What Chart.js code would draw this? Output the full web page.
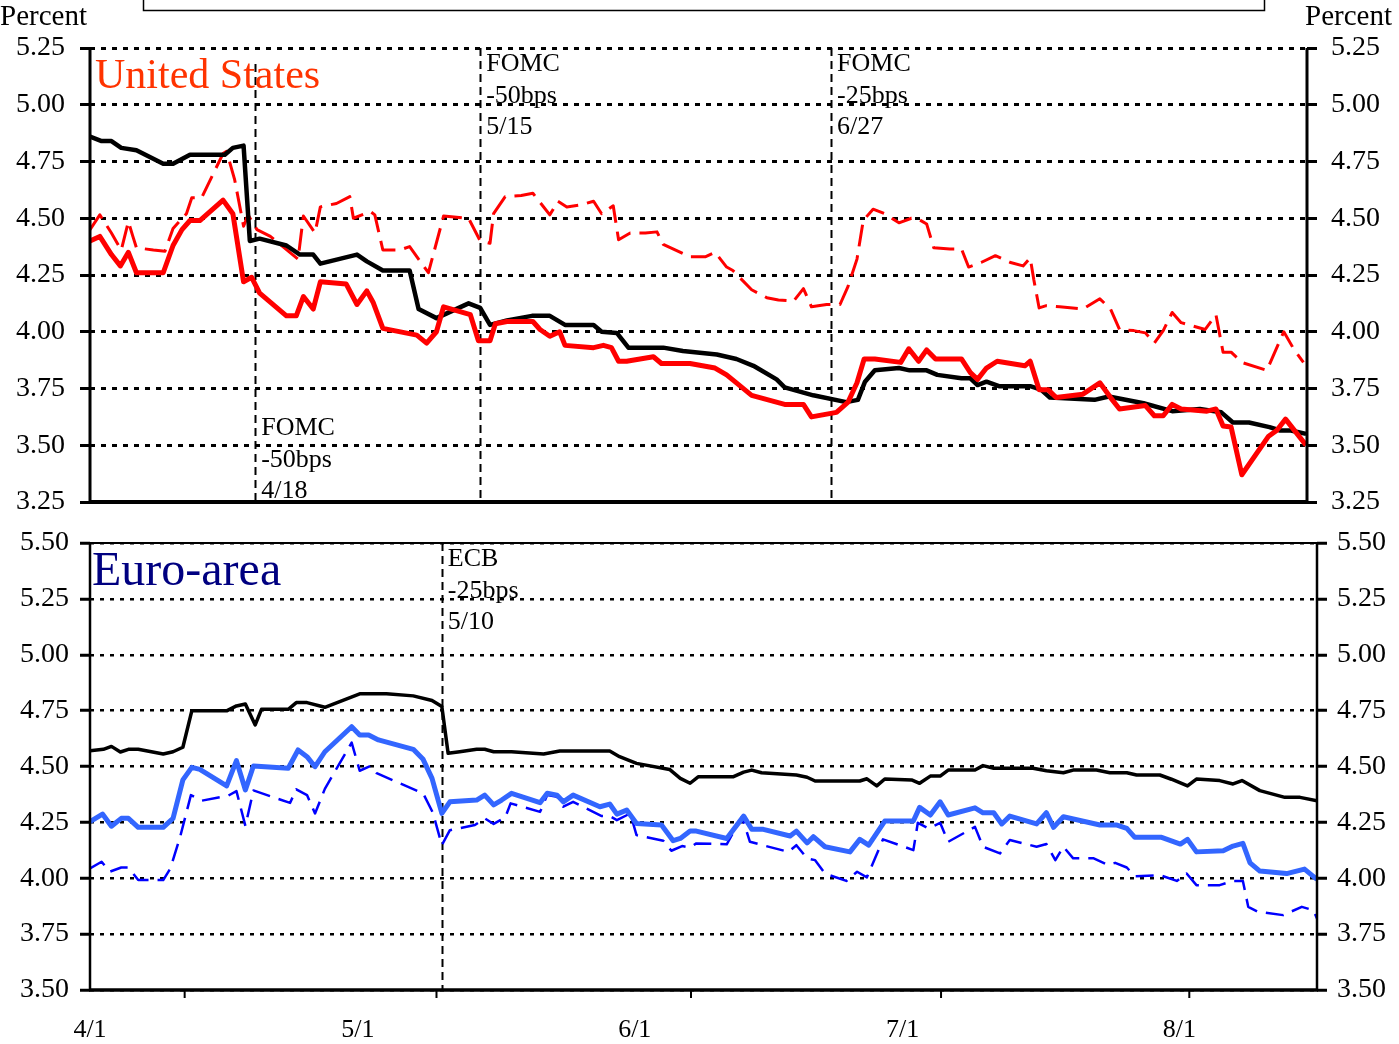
<!DOCTYPE html>
<html>
<head>
<meta charset="utf-8">
<title>US and Euro-area rates</title>
<script src="https://cdn.jsdelivr.net/npm/chart.js@4.4.1/dist/chart.umd.min.js"></script>
<style>
  body { margin: 0; background: #fff; }
  #wrap { position: relative; width: 1399px; height: 1044px; }
  canvas { position: absolute; left: 0; }
  #usChart { top: 0; z-index: 2; }
  #euChart { top: 512px; z-index: 1; }
</style>
</head>
<body>
<div id="wrap">
  <canvas id="usChart" width="1399" height="534" style="width:1399px;height:534px"></canvas>
  <canvas id="euChart" width="1399" height="532" style="width:1399px;height:532px"></canvas>
</div>
<script>
// x values are calendar days counted from 4/1
const monthDays = [0, 30, 61, 91, 122];
const monthLabels = ["4/1", "5/1", "6/1", "7/1", "8/1"];
const tickDays = [10.6, 38.8, 67.3, 95.3, 123.1];

// United States
const usBlackDays = [0,1.3,2.4,3.5,5.2,8.2,9.3,11.2,15.1,16.0,17.2,17.9,19.0,22.0,23.5,25.0,25.8,29.9,31.0,32.8,35.8,36.8,38.8,42.4,43.7,44.8,46.7,49.5,51.5,53.2,56.4,57.3,59.0,60.3,64.2,66.4,70.2,72.4,74.3,76.9,77.8,81.0,84.7,86.0,86.8,87.9,90.6,91.8,93.7,94.9,97.6,98.6,99.4,100.4,101.8,105.3,106.5,107.5,112.5,114.1,118.0,121.2,124.3,126.7,128.0,129.8,132.1,133.3,134.5,136.2];
const usBlackVals = [4.86,4.84,4.84,4.81,4.80,4.74,4.74,4.78,4.78,4.81,4.82,4.40,4.41,4.38,4.34,4.34,4.30,4.34,4.31,4.27,4.27,4.10,4.06,4.125,4.105,4.03,4.05,4.07,4.07,4.03,4.03,4.00,3.995,3.93,3.93,3.915,3.90,3.88,3.85,3.79,3.755,3.72,3.69,3.70,3.78,3.83,3.84,3.83,3.83,3.81,3.795,3.795,3.765,3.78,3.76,3.76,3.745,3.71,3.70,3.715,3.685,3.65,3.66,3.645,3.60,3.60,3.58,3.565,3.565,3.55];

const usRedDays = [0,1.1,2.4,3.4,4.3,5.2,8.2,9.3,10.3,11.2,12.3,14.9,16.0,17.2,18.1,19.0,22.0,23.1,23.9,25.0,25.8,28.7,29.9,31.0,31.7,32.8,36.6,37.7,38.8,39.6,42.6,43.5,44.8,45.4,46.7,49.6,50.4,51.5,52.6,53.2,56.4,57.5,58.4,59.2,60.1,63.1,64.0,67.2,70.0,71.3,72.4,74.1,77.8,79.9,80.8,83.6,84.9,85.9,86.7,87.9,90.8,91.7,92.8,93.7,94.7,97.6,98.6,99.4,100.4,101.6,104.7,105.3,106.3,107.3,108.2,111.2,113.1,114.3,115.3,118.2,119.2,120.2,121.2,122.2,125.1,126.1,126.9,127.8,129.0,132.0,132.9,133.9,134.8,136.2];
const usRedVals = [4.40,4.42,4.34,4.29,4.35,4.26,4.26,4.38,4.45,4.49,4.49,4.58,4.52,4.22,4.24,4.17,4.07,4.07,4.155,4.10,4.22,4.21,4.12,4.18,4.13,4.015,3.985,3.95,4.00,4.11,4.075,3.96,3.96,4.035,4.045,4.045,4.01,3.98,4.00,3.94,3.93,3.94,3.93,3.87,3.87,3.89,3.86,3.86,3.84,3.81,3.775,3.72,3.68,3.68,3.625,3.645,3.69,3.775,3.88,3.88,3.865,3.925,3.87,3.92,3.88,3.88,3.82,3.79,3.84,3.87,3.85,3.87,3.745,3.745,3.71,3.725,3.775,3.71,3.66,3.675,3.63,3.63,3.68,3.66,3.65,3.66,3.585,3.58,3.37,3.54,3.565,3.615,3.57,3.50];

const usRedDashDays = [0,1.1,2.4,3.5,4.3,4.8,5.2,7.1,8.4,9.3,10.8,11.4,12.5,14.9,15.3,16.2,17.2,17.7,18.7,20.2,21.6,23.3,23.9,25.2,25.8,27.6,29.1,29.5,31.4,31.9,32.8,34.7,35.8,37.9,39.6,42.4,43.7,44.8,45.2,46.5,48.3,49.6,51.5,52.4,53.4,55.1,56.4,57.3,58.6,59.2,60.5,62.2,63.5,64.2,67.2,68.9,70.0,71.3,72.0,74.1,75.8,77.1,78.8,79.9,80.8,82.5,84.0,84.9,85.9,86.6,87.7,89.0,90.6,92.0,92.6,93.7,94.5,96.3,97.6,98.4,99.8,101.4,103.1,104.5,105.3,105.7,106.3,107.1,108.6,111.2,113.1,114.3,115.3,116.9,118.2,119.2,120.2,121.2,122.2,124.9,126.1,126.9,127.8,129.0,131.8,133.7,134.8,135.9];
const usRedDashVals = [4.45,4.515,4.435,4.36,4.485,4.42,4.37,4.36,4.355,4.455,4.52,4.59,4.59,4.785,4.795,4.67,4.465,4.515,4.45,4.42,4.375,4.32,4.51,4.435,4.55,4.565,4.595,4.50,4.53,4.515,4.36,4.36,4.375,4.26,4.51,4.50,4.40,4.39,4.52,4.595,4.60,4.61,4.515,4.575,4.55,4.56,4.575,4.52,4.555,4.405,4.435,4.435,4.44,4.385,4.33,4.33,4.35,4.285,4.27,4.185,4.15,4.14,4.135,4.19,4.11,4.12,4.12,4.20,4.32,4.49,4.54,4.52,4.48,4.50,4.50,4.475,4.37,4.365,4.365,4.285,4.305,4.335,4.305,4.29,4.325,4.23,4.105,4.115,4.11,4.10,4.145,4.10,4.01,4.005,3.995,3.95,4.005,4.085,4.04,4.01,4.075,3.91,3.91,3.865,3.83,4.00,3.925,3.865];

// Euro-area
const euBlackDays = [0,1.5,2.4,3.4,4.3,5.4,8.2,9.3,10.4,11.4,15.3,16.4,17.4,18.5,19.2,22.2,23.1,24.3,26.3,30.2,33.2,36.2,38.3,39.4,40.1,41.4,43.3,44.2,45.2,47.2,50.8,52.6,58.2,59.3,61.2,64.9,66.1,67.2,68.1,72.0,73.2,74.1,75.2,79.1,80.3,81.2,86.2,87.0,88.1,89.0,92.0,92.9,94.1,95.2,96.1,99.1,100.0,101.2,105.6,107.1,109.0,110.1,112.7,114.2,116.1,117.2,119.8,121.1,122.9,123.9,126.5,128.0,129.0,131.0,133.8,135.5,137.4];
const euBlackVals = [4.57,4.577,4.59,4.565,4.577,4.577,4.556,4.566,4.586,4.749,4.749,4.771,4.78,4.686,4.756,4.756,4.786,4.786,4.765,4.825,4.825,4.816,4.795,4.768,4.559,4.566,4.577,4.577,4.566,4.566,4.556,4.569,4.569,4.544,4.514,4.487,4.447,4.425,4.454,4.454,4.475,4.484,4.472,4.462,4.452,4.435,4.435,4.445,4.413,4.444,4.44,4.425,4.457,4.457,4.484,4.484,4.504,4.492,4.492,4.481,4.472,4.484,4.484,4.472,4.472,4.462,4.462,4.443,4.413,4.444,4.437,4.422,4.437,4.392,4.362,4.362,4.347];

const euBlueDays = [0,1.4,2.4,3.5,4.3,5.4,8.2,9.3,10.4,11.4,12.3,15.3,16.4,17.4,18.3,22.2,23.3,24.3,25.2,26.3,29.3,30.2,31.2,32.3,36.2,37.3,38.3,39.4,40.3,43.3,44.2,45.2,46.1,47.2,50.4,51.2,52.3,53.0,54.1,57.1,58.2,59.0,60.1,61.2,64.0,65.3,66.1,67.2,67.9,71.3,73.2,74.1,75.4,78.4,79.1,80.3,81.0,82.3,85.1,86.2,87.2,89.0,92.2,92.9,94.1,95.2,96.1,99.1,100.0,101.2,102.1,103.0,106.0,107.1,107.9,109.0,113.1,115.0,116.1,117.0,120.0,122.1,122.9,123.9,126.9,128.0,129.1,129.9,131.0,134.0,136.0,137.4];
const euBlueVals = [4.253,4.287,4.233,4.268,4.268,4.228,4.228,4.268,4.44,4.496,4.487,4.413,4.526,4.395,4.502,4.492,4.574,4.544,4.499,4.566,4.678,4.641,4.641,4.619,4.577,4.532,4.447,4.29,4.342,4.35,4.372,4.328,4.35,4.38,4.338,4.38,4.372,4.342,4.372,4.32,4.332,4.287,4.305,4.245,4.238,4.168,4.178,4.211,4.211,4.178,4.278,4.219,4.219,4.189,4.211,4.158,4.186,4.141,4.118,4.174,4.148,4.256,4.256,4.317,4.283,4.342,4.283,4.315,4.293,4.293,4.243,4.278,4.243,4.293,4.228,4.275,4.238,4.238,4.223,4.183,4.183,4.153,4.174,4.118,4.123,4.144,4.156,4.069,4.032,4.021,4.041,3.995];

const euDashDays = [0,1.3,2.2,3.5,4.3,5.4,8.2,9.0,10.1,11.3,12.5,15.5,16.4,17.4,18.3,22.4,23.1,24.3,25.2,26.3,29.3,30.2,31.4,32.1,37.3,38.4,39.4,40.3,43.1,44.2,45.2,46.5,47.1,50.4,51.2,52.3,53.0,54.1,57.3,58.2,59.0,60.5,61.2,64.2,65.1,66.3,67.2,67.9,71.3,73.0,73.9,78.2,79.1,80.3,81.2,82.3,84.7,85.9,87.0,88.8,92.2,92.7,93.9,95.2,96.1,99.1,100.0,101.9,103.0,106.0,107.1,108.1,109.0,110.1,112.4,114.0,114.8,116.1,117.0,119.8,121.7,122.8,123.9,126.5,128.0,129.1,129.7,130.8,133.6,135.7,137.0,137.4];
const euDashVals = [4.044,4.074,4.029,4.048,4.048,3.992,3.992,4.044,4.186,4.372,4.347,4.37,4.39,4.234,4.393,4.337,4.398,4.372,4.29,4.40,4.607,4.481,4.502,4.47,4.38,4.293,4.148,4.215,4.238,4.268,4.243,4.272,4.335,4.297,4.372,4.365,4.32,4.342,4.278,4.278,4.26,4.29,4.193,4.168,4.123,4.144,4.138,4.156,4.152,4.275,4.163,4.118,4.148,4.089,4.081,4.021,3.988,4.029,4.004,4.174,4.126,4.248,4.223,4.248,4.163,4.23,4.141,4.111,4.171,4.141,4.153,4.081,4.141,4.089,4.089,4.059,4.069,4.048,4.009,4.014,3.988,4.021,3.969,3.969,3.988,3.988,3.872,3.85,3.835,3.872,3.857,3.82];

// policy events, drawn as dashed verticals with a note
const usEvents = [
  { day: 18.5, from: 5.18, text: ["FOMC", "-50bps", "4/18"], at: "bottom" },
  { day: 43.7, from: 5.25, text: ["FOMC", "-50bps", "5/15"], at: "top" },
  { day: 83.0, from: 5.25, text: ["FOMC", "-25bps", "6/27"], at: "top" },
];
const euEvents = [
  { day: 39.4, from: 5.5, text: ["ECB", "-25bps", "5/10"], at: "top" },
];

const serif = "'Liberation Serif', 'Times New Roman', serif";

function series(label, days, vals, color, width, dash) {
  return {
    label: label,
    data: days.map((d, i) => ({ x: d, y: vals[i] })),
    borderColor: color,
    borderWidth: width,
    borderDash: dash || [],
    borderJoinStyle: "round",
    pointRadius: 0,
    tension: 0,
    fill: false,
  };
}

function yAxis(side, min, max, width, pad, gridWidth, dash) {
  return {
    type: "linear",
    position: side,
    min: min,
    max: max,
    afterFit(s) { s.width = width; },
    ticks: {
      stepSize: 0.25,
      padding: pad,
      color: "#000",
      font: { family: serif, size: 28 },
      callback: (v) => v.toFixed(2),
    },
    grid: {
      drawOnChartArea: side === "left",
      color: "#000",
      lineWidth: gridWidth,
      drawTicks: true,
      tickLength: 10,
      tickWidth: 3,
      tickColor: "#000",
    },
    border: { display: false, dash: dash },
  };
}

const panelPlugin = {
  id: "panel",
  beforeDatasetsDraw(chart, args, opts) {
    const { ctx, chartArea: a, scales } = chart;
    ctx.save();
    ctx.strokeStyle = "#000";
    ctx.lineWidth = 2;
    ctx.setLineDash([8, 5]);
    opts.events.forEach((ev) => {
      const px = Math.round(scales.x.getPixelForValue(ev.day)) + 0.5;
      ctx.beginPath();
      ctx.moveTo(px, scales.y.getPixelForValue(ev.from));
      ctx.lineTo(px, a.bottom);
      ctx.stroke();
    });
    ctx.restore();
  },
  afterDraw(chart, args, opts) {
    const { ctx, chartArea: a, scales } = chart;
    ctx.save();
    // frame
    ctx.strokeStyle = "#000";
    const line = (w, x1, y1, x2, y2) => {
      ctx.lineWidth = w;
      ctx.beginPath();
      ctx.moveTo(x1, y1);
      ctx.lineTo(x2, y2);
      ctx.stroke();
    };
    line(opts.sideWidth, a.left, a.top, a.left, a.bottom);
    line(opts.sideWidth, a.right, a.top, a.right, a.bottom);
    line(opts.bottomWidth, a.left - 1, a.bottom, a.right + 1, a.bottom);
    if (opts.topWidth) line(opts.topWidth, a.left, a.top, a.right, a.top);
    if (opts.monthTicks) {
      tickDays.forEach((d) => {
        const px = scales.x.getPixelForValue(d);
        line(2, px, a.bottom, px, a.bottom + 8);
      });
    }

    // event notes
    ctx.fillStyle = "#000";
    ctx.font = "26px " + serif;
    ctx.textAlign = "left";
    ctx.textBaseline = "alphabetic";
    opts.events.forEach((ev) => {
      const px = scales.x.getPixelForValue(ev.day) + 6;
      ev.text.forEach((t, i) => {
        const py = ev.at === "top" ? a.top + 23 + i * 31.5 : a.bottom - 67 + i * 31.5;
        ctx.fillText(t, px, py);
      });
    });

    // panel title
    ctx.fillStyle = opts.titleColor;
    ctx.font = opts.titleSize + "px " + serif;
    ctx.fillText(opts.title, a.left + opts.titleDx, a.top + opts.titleDy);
    ctx.restore();
  },
};

const pagePlugin = {
  id: "page",
  afterDraw(chart) {
    const ctx = chart.ctx;
    ctx.save();
    ctx.fillStyle = "#000";
    ctx.textBaseline = "alphabetic";
    ctx.font = "29px " + serif;
    ctx.textAlign = "left";
    ctx.fillText("Percent", 0, 25);
    ctx.textAlign = "right";
    ctx.fillText("Percent", 1392, 25);
    // bottom edge of the box above the chart
    ctx.strokeStyle = "#000";
    ctx.lineWidth = 1.5;
    ctx.beginPath();
    ctx.moveTo(143.5, 0);
    ctx.lineTo(143.5, 10.5);
    ctx.lineTo(1264.5, 10.5);
    ctx.lineTo(1264.5, 0);
    ctx.stroke();
    ctx.restore();
  },
};

new Chart(document.getElementById("usChart"), {
  type: "line",
  data: {
    datasets: [
      series("US red", usRedDays, usRedVals, "#FF0000", 5),
      series("US black", usBlackDays, usBlackVals, "#000000", 4.5),
      series("US red dashed", usRedDashDays, usRedDashVals, "#FF0000", 3, [22, 9]),
    ],
  },
  options: {
    responsive: false,
    animation: false,
    events: [],
    layout: { autoPadding: false, padding: { top: 48, bottom: 32, left: 0, right: 0 } },
    plugins: {
      legend: { display: false },
      tooltip: { enabled: false },
      panel: {
        events: usEvents,
        sideWidth: 3,
        bottomWidth: 4,
        topWidth: 0,
        monthTicks: false,
        title: "United States",
        titleColor: "#FF3300",
        titleSize: 42,
        titleDx: 5,
        titleDy: 40,
      },
    },
    scales: {
      x: { type: "linear", min: 0, max: 136.3, display: false },
      y: yAxis("left", 3.25, 5.25, 90, 15, 3, [5, 6]),
      y2: yAxis("right", 3.25, 5.25, 92, 14, 3, [5, 6]),
    },
  },
  plugins: [panelPlugin, pagePlugin],
});

new Chart(document.getElementById("euChart"), {
  type: "line",
  data: {
    datasets: [
      series("Euro blue", euBlueDays, euBlueVals, "#3366FF", 5),
      series("Euro black", euBlackDays, euBlackVals, "#000000", 3.5),
      series("Euro blue dashed", euDashDays, euDashVals, "#0000FF", 2.5, [18, 9]),
    ],
  },
  options: {
    responsive: false,
    animation: false,
    events: [],
    layout: { autoPadding: false, padding: { top: 31, bottom: 0, left: 0, right: 0 } },
    plugins: {
      legend: { display: false },
      tooltip: { enabled: false },
      panel: {
        events: euEvents,
        sideWidth: 2.5,
        bottomWidth: 3.5,
        topWidth: 2,
        monthTicks: true,
        title: "Euro-area",
        titleColor: "#000080",
        titleSize: 48,
        titleDx: 2,
        titleDy: 42,
      },
    },
    scales: {
      x: {
        type: "linear",
        min: 0,
        max: 137.4,
        position: "bottom",
        afterFit(s) { s.height = 54; },
        afterBuildTicks(s) { s.ticks = monthDays.map((v) => ({ value: v })); },
        grid: { display: false },
        border: { display: false },
        ticks: {
          autoSkip: false,
          maxRotation: 0,
          padding: 17,
          color: "#000",
          font: { family: serif, size: 26 },
          callback: (v) => monthLabels[monthDays.indexOf(v)],
        },
      },
      y: yAxis("left", 3.5, 5.5, 90, 11, 2.5, [4, 6]),
      y2: yAxis("right", 3.5, 5.5, 82, 10, 2.5, [4, 6]),
    },
  },
  plugins: [panelPlugin],
});
</script>
</body>
</html>
